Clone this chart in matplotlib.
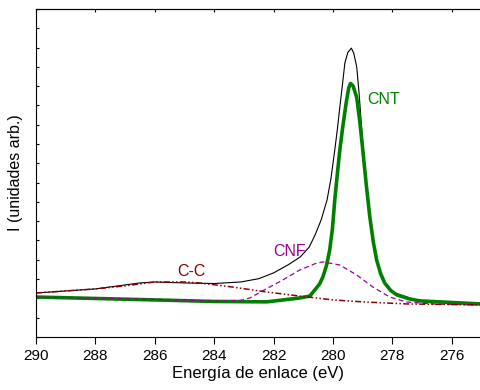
import numpy as np
import matplotlib.pyplot as plt

plt.rcParams['font.family'] = ['Liberation Sans', 'DejaVu Sans']

# total envelope (black)
e_tot = [290, 288, 286.5, 286, 285, 284, 283.1, 282.5, 282, 281.5, 281.1, 280.8,
         280.6, 280.4, 280.2, 280.07, 279.94, 279.85, 279.77, 279.68, 279.6,
         279.5, 279.38, 279.3, 279.2, 279.12, 279.03, 278.93, 278.83, 278.7,
         278.59, 278.47, 278.36, 278.2, 277.99, 277.42, 277.08, 276.0, 275.0]
i_tot = [2.28, 2.49, 2.80, 2.85, 2.80, 2.77, 2.85, 3.02, 3.32, 3.75, 4.15, 4.66,
         5.3, 6.06, 7.10, 8.2, 9.69, 10.8, 11.92, 13.1, 14.2,
         14.75, 14.97, 14.7, 13.99, 12.6, 10.73, 8.8, 7.10, 5.6,
         4.51, 3.7, 3.11, 2.65, 2.33, 2.02, 1.87, 1.76, 1.71]

# CNT component (green)
e_cnt = [290, 286, 284, 282.23, 281.12, 280.78, 280.61, 280.45, 280.34, 280.22,
         280.11, 280.02, 279.94, 279.85, 279.77, 279.67, 279.55, 279.47, 279.41,
         279.32, 279.2, 279.1, 279.0, 278.88, 278.76, 278.64, 278.53, 278.4,
         278.26, 278.05, 277.85, 277.42, 277.08, 275.0]
i_cnt = [2.07, 1.92, 1.84, 1.82, 2.02, 2.12, 2.44, 2.75, 3.11, 3.7,
         4.51, 5.6, 7.10, 8.5, 9.69, 10.9, 12.2, 12.9, 13.14,
         13.0, 12.4, 11.2, 9.74, 7.9, 6.22, 4.9, 3.99, 3.3,
         2.80, 2.4, 2.18, 1.97, 1.87, 1.71]

# CNF component (purple)
e_cnf = [290, 286, 284, 283.1, 282.8, 282.3, 281.69, 281.12, 280.55, 280.34,
         279.77, 279.2, 278.66, 278.09, 277.52, 276.5, 275.0]
i_cnf = [2.07, 1.95, 1.86, 1.90, 2.02, 2.45, 2.95, 3.47, 3.83, 3.89,
         3.73, 3.21, 2.59, 2.07, 1.81, 1.70, 1.66]

# C-C component (dark red)
e_cc = [290, 288, 287, 286, 285, 284.5, 283.4, 282.23, 281.12, 280.0, 278.9,
        277.5, 275.0]
i_cc = [2.28, 2.49, 2.65, 2.85, 2.85, 2.80, 2.59, 2.33, 2.12, 1.92, 1.81,
        1.71, 1.66]

fig = plt.figure(figsize=(4.8, 3.9), dpi=100)
ax = fig.add_axes([0.075, 0.136, 0.925, 0.841])

ax.plot(e_tot, i_tot, color='black', lw=0.8)
ax.plot(e_cnt, i_cnt, color='#008000', lw=2.6)
ax.plot(e_cnf, i_cnf, color='#990099', lw=0.9, dashes=(4, 2.5))
ax.plot(e_cc, i_cc, color='#8b0000', lw=1.1, dashes=(4, 1.5, 1, 1.5, 1, 1.5))

ax.text(278.85, 12.3, 'CNT', color='#008000', fontsize=11.5, va='center', ha='left')
ax.text(281.45, 4.45, 'CNF', color='#990099', fontsize=11.5, va='center', ha='center')
ax.text(284.75, 3.4, 'C-C', color='#8b0000', fontsize=11.5, va='center', ha='center')

ax.set_xlim(290, 275.05)
ax.set_ylim(0, 17)
ax.set_xticks(np.arange(290, 275, -2))
ax.set_yticks(np.arange(0, 18, 1))
ax.set_yticklabels([])
ax.tick_params(axis='x', which='major', bottom=True, top=False, direction='out',
               length=5, width=0.8, labelsize=11)
ax.tick_params(axis='y', direction='in', length=2, width=0.8)
# inward ticks along the top spine
top = ax.secondary_xaxis('top')
top.set_xticks(np.arange(290, 275, -2))
top.tick_params(direction='in', length=2, width=0.8, labeltop=False)
for side in ['left', 'bottom', 'top']:
    ax.spines[side].set_linewidth(0.8)
ax.spines['right'].set_visible(False)
top.spines['top'].set_linewidth(0.8)
ax.set_xlabel('Energía de enlace (eV)', fontsize=12, labelpad=2)
ax.set_ylabel('I (unidades arb.)', fontsize=11.5, labelpad=6)

fig.savefig('out.png', dpi=100)
